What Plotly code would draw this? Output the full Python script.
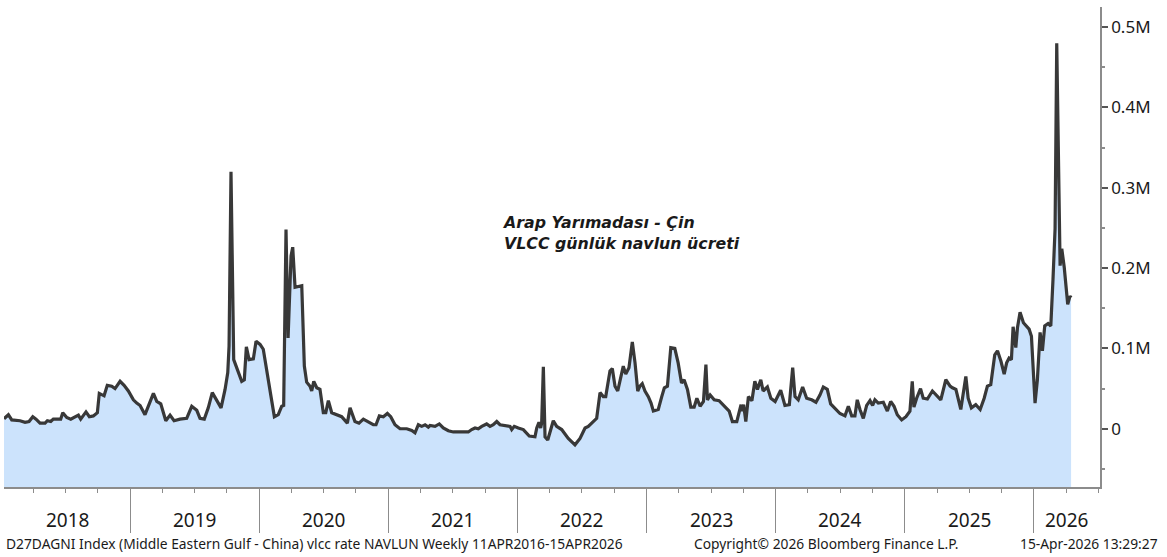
import plotly.graph_objects as go

# D27DAGNI Index - weekly VLCC rate, Middle Eastern Gulf -> China (thousand USD/day)
# dates are decimal years
yil = [
    2018.024, 2018.058, 2018.084, 2018.148, 2018.187, 2018.218, 2018.247, 2018.272, 2018.303, 2018.342,
    2018.360, 2018.386, 2018.406, 2018.463, 2018.479, 2018.510, 2018.541, 2018.574, 2018.600, 2018.618,
    2018.659, 2018.685, 2018.716, 2018.747, 2018.762, 2018.799, 2018.824, 2018.858, 2018.884, 2018.923,
    2018.954, 2018.987,
    2019.026, 2019.052, 2019.078, 2019.116, 2019.150, 2019.181, 2019.207, 2019.238, 2019.277, 2019.310,
    2019.341, 2019.387, 2019.439, 2019.478, 2019.517, 2019.542, 2019.575, 2019.606, 2019.637, 2019.671,
    2019.705, 2019.736, 2019.757, 2019.767, 2019.782, 2019.803, 2019.826, 2019.844, 2019.865, 2019.885,
    2019.901, 2019.922, 2019.955, 2019.976,
    2020.007, 2020.032, 2020.051, 2020.071, 2020.092, 2020.118, 2020.148, 2020.175, 2020.190, 2020.208,
    2020.224, 2020.247, 2020.260, 2020.278, 2020.330, 2020.350, 2020.368, 2020.394, 2020.407, 2020.423,
    2020.446, 2020.471, 2020.497, 2020.516, 2020.536, 2020.562, 2020.601, 2020.639, 2020.683, 2020.704,
    2020.742, 2020.773, 2020.807, 2020.846, 2020.884, 2020.905, 2020.931, 2020.962, 2020.993,
    2021.019, 2021.052, 2021.091, 2021.143, 2021.182, 2021.207, 2021.233, 2021.259, 2021.285, 2021.310,
    2021.323, 2021.362, 2021.395, 2021.426, 2021.465, 2021.504, 2021.556, 2021.620, 2021.646, 2021.672,
    2021.697, 2021.724, 2021.762, 2021.788, 2021.813, 2021.840, 2021.865, 2021.917, 2021.943, 2021.956,
    2021.976,
    2022.007, 2022.046, 2022.092, 2022.136, 2022.150, 2022.167, 2022.180, 2022.188, 2022.201, 2022.214,
    2022.235, 2022.266, 2022.278, 2022.304, 2022.343, 2022.394, 2022.446, 2022.485, 2022.524, 2022.549,
    2022.588, 2022.614, 2022.640, 2022.665, 2022.684, 2022.717, 2022.735, 2022.756, 2022.777, 2022.802,
    2022.820, 2022.839, 2022.864, 2022.890, 2022.911, 2022.932, 2022.949, 2022.967, 2022.988,
    2023.014, 2023.035, 2023.053, 2023.091, 2023.118, 2023.138, 2023.162, 2023.188, 2023.219, 2023.245,
    2023.271, 2023.291, 2023.317, 2023.343, 2023.369, 2023.390, 2023.415, 2023.441, 2023.460, 2023.472,
    2023.493, 2023.524, 2023.562, 2023.601, 2023.640, 2023.665, 2023.699, 2023.732, 2023.739, 2023.752,
    2023.769, 2023.789, 2023.816, 2023.839, 2023.859, 2023.885, 2023.903, 2023.936, 2023.963, 2023.996,
    2024.039, 2024.072, 2024.106, 2024.132, 2024.150, 2024.175, 2024.209, 2024.240, 2024.279, 2024.312,
    2024.343, 2024.369, 2024.400, 2024.426, 2024.459, 2024.498, 2024.537, 2024.563, 2024.589, 2024.614,
    2024.632, 2024.653, 2024.679, 2024.705, 2024.731, 2024.751, 2024.769, 2024.795, 2024.834, 2024.865,
    2024.891, 2024.917, 2024.942, 2024.976,
    2025.009, 2025.040, 2025.058, 2025.071, 2025.092, 2025.122, 2025.143, 2025.175, 2025.214, 2025.240,
    2025.279, 2025.318, 2025.351, 2025.369, 2025.396, 2025.434, 2025.473, 2025.491, 2025.516, 2025.550,
    2025.584, 2025.615, 2025.640, 2025.666, 2025.697, 2025.718, 2025.745, 2025.770, 2025.789, 2025.808,
    2025.826, 2025.839, 2025.860, 2025.873, 2025.893, 2025.919, 2025.938, 2025.963, 2025.981, 2025.996,
    2026.009, 2026.027, 2026.048, 2026.066, 2026.084, 2026.110, 2026.131, 2026.148, 2026.164, 2026.177,
    2026.190, 2026.203, 2026.216, 2026.235, 2026.262, 2026.279, 2026.288,
]

ucret = [
    12.5, 17.5, 11, 10, 8, 9, 15, 12, 7, 7,
    10, 9, 12, 12, 20, 14, 12, 15, 17, 12,
    21, 15, 16, 20, 44, 41, 54, 53, 50, 59,
    54, 47,
    36, 32, 29, 17.5, 32, 44, 34, 31, 10, 17,
    10, 12, 13, 28, 23, 13, 12, 26, 45, 36,
    26, 49, 70, 103, 320, 86, 76, 70, 59, 61,
    102, 86, 87, 109,
    105, 99, 82, 61, 40, 15, 17.5, 28, 29, 248,
    113, 215, 226, 176, 178, 78, 58, 53, 47, 59,
    51, 49, 20, 20, 35, 20, 17.5, 15, 7, 26,
    9, 7, 12, 9, 5, 5, 16, 15, 19,
    15, 5, 0, 0, -2, -5, 5, 3, 5, 2,
    4, 3, 6, 1, -2.5, -4, -4, -4, -1, 1,
    0, 3, 6, 3, 5, 9, 5, 3, 3, -1,
    3,
    1, -1, -9, -10, 1, 8, 1, 7, 77, -10,
    -14, 3, 10, 3, -1, -12, -20, -12, 1, 3,
    9, 13, 45, 40, 40, 72, 75, 53, 47, 65,
    78, 68, 76, 108, 82, 47, 53, 56, 47,
    40, 32, 22, 24, 40, 51, 53, 101, 100, 82,
    57, 61, 49, 27, 27, 38, 28, 34, 80, 36,
    42, 36, 35, 28, 22, 9, 9, 30, 22, 30,
    9, 40, 35, 59, 49, 61, 47, 52, 38, 34,
    48, 29, 30, 76, 40, 36, 52, 38, 36, 33,
    42, 52, 49, 31, 26, 19, 16, 28, 16, 16,
    36, 24, 13, 29, 35, 29, 36, 32, 33, 22,
    34, 28, 17.5, 11,
    15, 22, 59, 27, 38, 50, 38, 37, 47, 42,
    36, 61, 53, 51, 49, 24, 65, 38, 26, 30,
    24, 38, 53, 55, 92, 97, 84, 68, 82, 88,
    86, 127, 101, 126, 145, 132, 128, 124, 115, 61,
    32, 61, 120, 97, 128, 131, 128, 186, 249, 480,
    332, 203, 224, 201, 155, 165, 163,
]

yillar = [2018, 2019, 2020, 2021, 2022, 2023, 2024, 2025, 2026]
y_ticks = [0, 100, 200, 300, 400, 500]
y_labels = ["0", "0.1M", "0.2M", "0.3M", "0.4M", "0.5M"]

X_MIN, X_MAX = 2018.024, 2026.512
Y_MIN, Y_MAX = -72.5, 525

FONT = "Noto Sans"
TEXT = "#1a1a1a"
AXIS = "#8c8c8c"

fig = go.Figure()

# invisible baseline at the bottom of the plot so the fill reaches the axis
fig.add_trace(go.Scatter(
    x=[yil[0], yil[-1]], y=[Y_MIN, Y_MIN],
    mode="lines", line=dict(width=0), hoverinfo="skip", showlegend=False,
))
fig.add_trace(go.Scatter(
    x=yil, y=ucret, mode="lines",
    line=dict(color="#383838", width=3.2),
    fill="tonexty", fillcolor="#cce3fc",
    showlegend=False,
))

annotations = []
for yr in yillar:
    lo, hi = max(yr, X_MIN), min(yr + 1, X_MAX)
    annotations.append(dict(
        x=(lo + hi) / 2, xref="x", y=-0.069, yref="paper",
        text=str(yr), showarrow=False, xanchor="center", yanchor="middle",
        font=dict(family=FONT, size=19, color=TEXT),
    ))

footer_font = dict(family=FONT, size=13.8, color=TEXT)
annotations += [
    dict(x=0, y=-0.117, xref="paper", yref="paper", xanchor="left", yanchor="middle",
         showarrow=False, font=footer_font,
         text="D27DAGNI Index (Middle Eastern Gulf - China) vlcc rate NAVLUN Weekly 11APR2016-15APR2026"),
    dict(x=0.6277, y=-0.117, xref="paper", yref="paper", xanchor="left", yanchor="middle",
         showarrow=False, font=footer_font, text="Copyright© 2026 Bloomberg Finance L.P."),
    dict(x=1.0547, y=-0.117, xref="paper", yref="paper", xanchor="right", yanchor="middle",
         showarrow=False, font=footer_font, text="15-Apr-2026 13:29:27"),
    dict(x=0.4526, y=0.575, xref="paper", yref="paper", xanchor="left", yanchor="top",
         showarrow=False, align="left",
         font=dict(family="DejaVu Sans", size=15.8, color="#1a1a1a", weight="bold", style="italic"),
         text="Arap Yarımadası - Çin<br>VLCC günlük navlun ücreti"),
]

fig.update_layout(
    width=1167, height=557,
    margin=dict(l=4, r=67, t=7, b=70),
    paper_bgcolor="white", plot_bgcolor="white",
    annotations=annotations,
    xaxis=dict(
        range=[X_MIN, X_MAX], showgrid=False, zeroline=False,
        showline=True, linecolor=AXIS, linewidth=1.5,
        tickmode="array", tickvals=yillar[1:], showticklabels=False,
        ticks="outside", ticklen=44, tickcolor=AXIS, tickwidth=1,
        minor=dict(tick0=2018, dtick=0.25, ticks="outside", ticklen=4, tickcolor=AXIS),
    ),
    yaxis=dict(
        range=[Y_MIN, Y_MAX], side="right", showgrid=False, zeroline=False,
        showline=True, linecolor=AXIS, linewidth=1.5,
        tickmode="array", tickvals=y_ticks, ticktext=y_labels,
        ticks="outside", ticklen=6, tickwidth=2, tickcolor="#555555",
        minor=dict(dtick=50, ticks="outside", ticklen=3, tickcolor=AXIS),
        tickfont=dict(family=FONT, size=17, color=TEXT),
    ),
)

# drop the default page margin so the figure sits at the window's top-left corner
fig.write_html(
    "out.html",
    config={"displayModeBar": False},
    post_script="document.body.style.margin='0';",
)
